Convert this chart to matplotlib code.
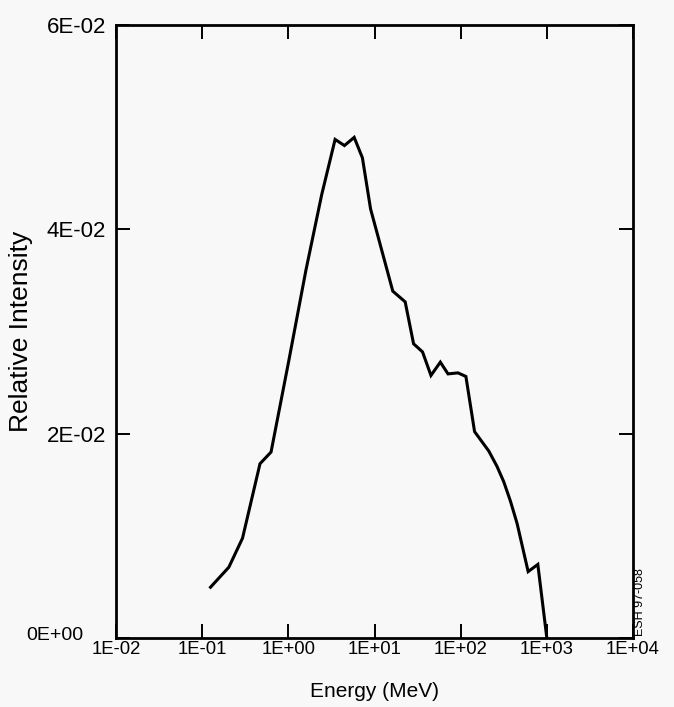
import numpy as np
import matplotlib
matplotlib.use("Agg")
import matplotlib.pyplot as plt
from matplotlib.transforms import ScaledTranslation

# ── Data ──────────────────────────────────────────────────────
energy = [0.125, 0.204, 0.294, 0.469, 0.63, 1.0, 1.6, 2.44, 3.49, 4.48,
          5.81, 7.24, 9.0, 16.3, 22.7, 28.4, 36.1, 45.2, 58.1, 71.3,
          93.0, 115.0, 145.0, 212.0, 264.0, 316.0, 378.0, 452.0, 607.0,
          786.0, 1000.0]
intensity = [4.97e-3, 6.93e-3, 9.77e-3, 17.06e-3, 18.2e-3, 26.9e-3, 36.0e-3,
             43.4e-3, 48.8e-3, 48.2e-3, 49.0e-3, 47.0e-3, 42.0e-3, 33.95e-3,
             32.9e-3, 28.8e-3, 28.0e-3, 25.7e-3, 27.0e-3, 25.85e-3, 25.95e-3,
             25.6e-3, 20.2e-3, 18.3e-3, 16.8e-3, 15.3e-3, 13.4e-3, 11.2e-3,
             6.5e-3, 7.2e-3, 0.0]

x_ticks = [1e-2, 1e-1, 1e0, 1e1, 1e2, 1e3, 1e4]
x_labels = ["1E-02", "1E-01", "1E+00", "1E+01", "1E+02", "1E+03", "1E+04"]
y_ticks = [0.0, 0.02, 0.04, 0.06]
y_labels = ["0E+00", "2E-02", "4E-02", "6E-02"]

# ── Style ─────────────────────────────────────────────────────
plt.rcParams.update({
    "font.family": ["Liberation Sans", "DejaVu Sans"],
    "figure.facecolor": "#f8f8f8",
    "axes.facecolor": "#f8f8f8",
})

fig = plt.figure(figsize=(6.74, 7.07), dpi=100)
ax = fig.add_axes([116 / 674, 69 / 707, 517 / 674, 613 / 707])

ax.plot(energy, intensity, color="black", linewidth=2.2,
        solid_joinstyle="miter")

ax.set_xscale("log")
ax.set_xlim(1e-2, 1e4)
ax.set_ylim(0, 0.06)
ax.set_xticks(x_ticks)
ax.set_xticklabels(x_labels)
ax.set_yticks(y_ticks)
ax.set_yticklabels(y_labels)
ax.minorticks_off()

ax.tick_params(direction="in", length=10, width=1.4, color="black",
               top=True, right=True)
ax.tick_params(axis="x", pad=2.5, labelsize=13.3)
ax.tick_params(axis="y", pad=7, labelsize=16)

# the zero label sits further left and a little higher in the original
zero_lbl = ax.get_yticklabels()[0]
zero_lbl.set_fontsize(14)
zero_lbl.set_transform(zero_lbl.get_transform()
                       + ScaledTranslation(-0.23, 0.04, fig.dpi_scale_trans))

for sp in ax.spines.values():
    sp.set_linewidth(2)

ax.set_xlabel("Energy (MeV)", fontsize=15, labelpad=17)
ax.set_ylabel("Relative Intensity", fontsize=19)
ax.yaxis.set_label_coords(-0.16, 0.5)

fig.text(640 / 674, 1 - 602 / 707, "ESH 97-058", rotation=90,
         fontsize=9, ha="center", va="center")

fig.savefig("out.png", dpi=100, facecolor=fig.get_facecolor())
